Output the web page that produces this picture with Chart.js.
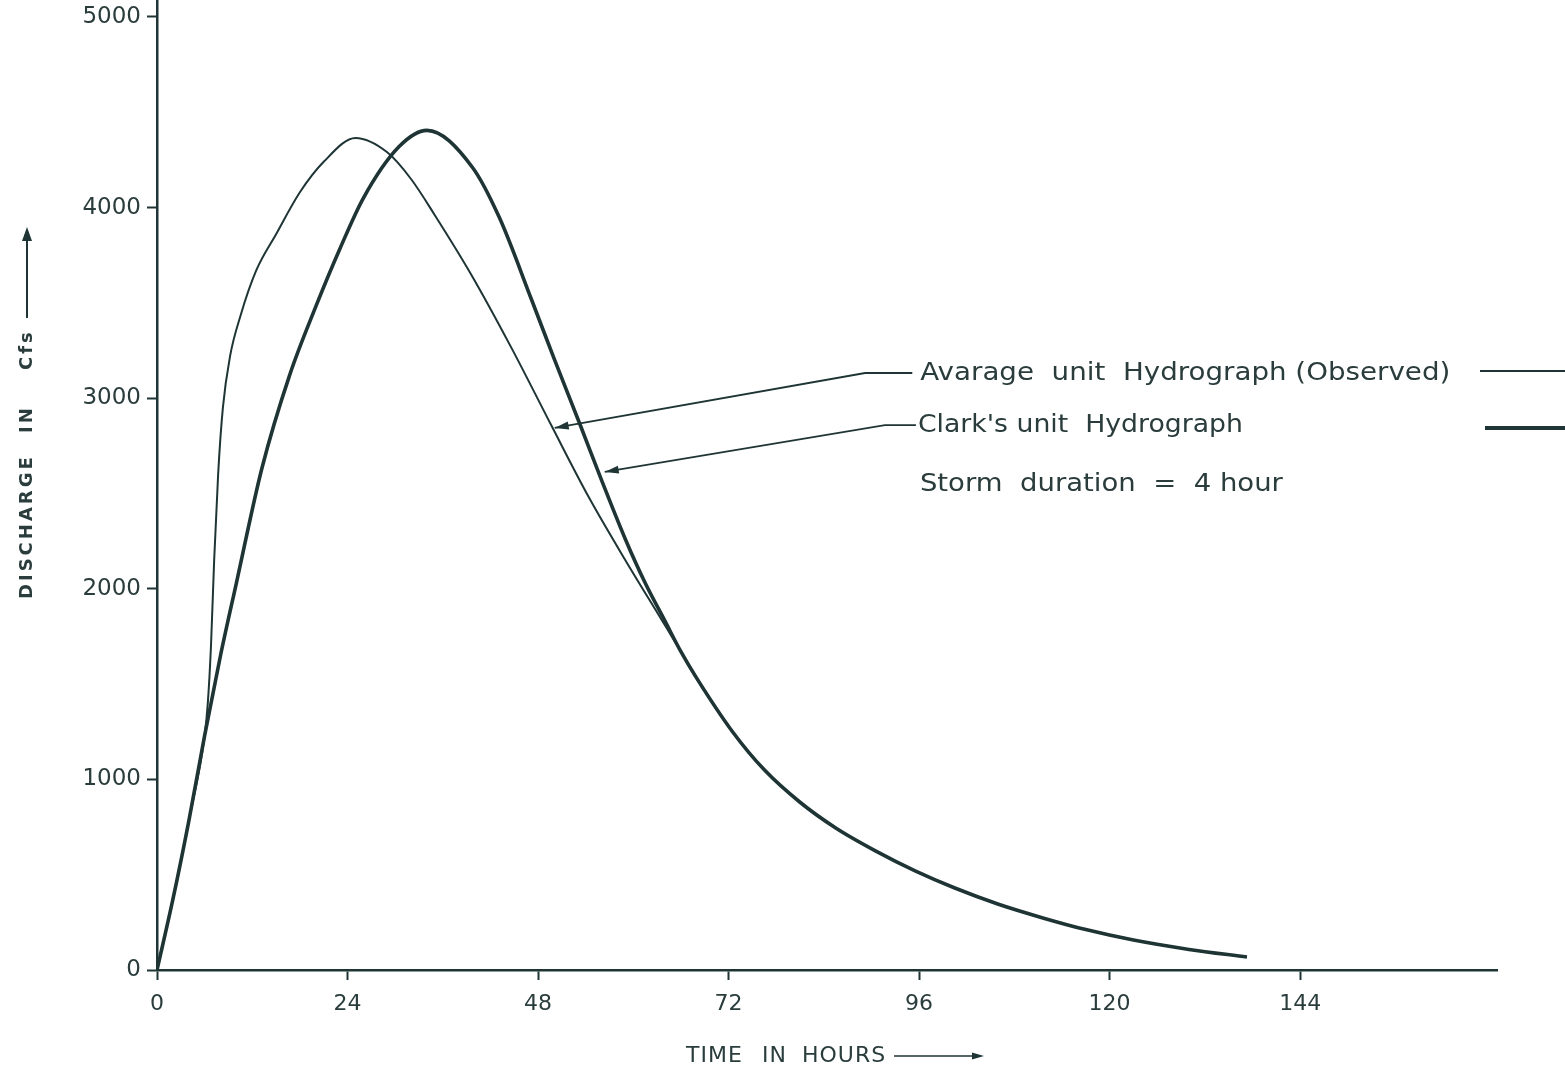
<!DOCTYPE html>
<html><head><meta charset="utf-8">
<script src="https://cdn.jsdelivr.net/npm/chart.js@4"></script>
<style>html,body{margin:0;padding:0;background:#fff}#wrap{width:1565px;height:1069px}</style>
</head><body><div id="wrap"><canvas id="c" width="1565" height="1069"></canvas></div>
<script>
// Time in hours / discharge in cfs
const obsHours  = [0, 2, 4, 6, 6.4, 6.8, 7.2, 7.7, 8.3, 9.2, 10.5, 12.5, 15, 18, 21, 25, 29, 32, 35, 39.7, 44.7, 49.7, 54.4, 59, 63.6, 66, 68, 72.5, 76.5, 81, 85.5, 90.5, 95.5, 100.5, 106, 111.7, 117, 123, 130, 137.3];
const obsFlow   = [0, 370, 780, 1230, 1400, 1700, 2150, 2600, 2950, 3220, 3430, 3670, 3860, 4080, 4240, 4365, 4290, 4150, 3960, 3640, 3260, 2855, 2480, 2150, 1835, 1670, 1530, 1250, 1050, 880, 745, 625, 520, 430, 345, 272, 212, 157, 108, 68];
const clarkHours = [0, 2, 4, 6, 8, 10, 13.2, 16.7, 20, 23, 26, 30.5, 34, 39.7, 43.1, 47.2, 50, 53.4, 56, 59, 61.5, 64, 66, 68, 72.5, 76.5, 81, 85.5, 90.5, 95.5, 100.5, 106, 111.7, 117, 123, 130, 137.3];
const clarkFlow  = [0, 370, 780, 1230, 1650, 2030, 2630, 3120, 3480, 3780, 4050, 4320, 4405, 4213, 3950, 3515, 3210, 2850, 2570, 2260, 2030, 1830, 1670, 1530, 1250, 1050, 880, 745, 625, 520, 430, 345, 272, 212, 157, 108, 68];
const xTickValues = [0, 24, 48, 72, 96, 120, 144];
const yTickValues = [0, 1000, 2000, 3000, 4000, 5000];
const seriesNames = ['Avarage  unit  Hydrograph (Observed)', "Clark's unit  Hydrograph"];
const noteText = 'Storm  duration  =  4 hour';
const xTitleWords = ['TIME', 'IN', 'HOURS'];
const yTitleWords = ['DISCHARGE', 'IN', 'Cfs'];

const INK = '#1f3535';
const TXT = '#2a3c3c';

const toPts = (xs, ys) => xs.map((x, i) => ({x: x, y: ys[i]}));

function arrowHead(ctx, x1, y1, x2, y2, len, wid) {
  const a = Math.atan2(y2 - y1, x2 - x1);
  ctx.beginPath();
  ctx.moveTo(x2, y2);
  ctx.lineTo(x2 - len * Math.cos(a) + wid * Math.sin(a), y2 - len * Math.sin(a) - wid * Math.cos(a));
  ctx.lineTo(x2 - len * Math.cos(a) - wid * Math.sin(a), y2 - len * Math.sin(a) + wid * Math.cos(a));
  ctx.closePath();
  ctx.fill();
}
function fitText(ctx, text, x, y, font, targetW) {
  ctx.font = font;
  const w = ctx.measureText(text).width;
  ctx.save();
  ctx.translate(x, y);
  ctx.scale(targetW / w, 1);
  ctx.fillText(text, 0, 0);
  ctx.restore();
}

const annot = {
  id: 'annot',
  afterDraw(chart) {
    const ctx = chart.ctx, xs = chart.scales.x, ys = chart.scales.y;
    const P = (h, v) => [xs.getPixelForValue(h), ys.getPixelForValue(v)];
    const F = '25px "DejaVu Sans"';
    ctx.save();
    ctx.fillStyle = TXT; ctx.strokeStyle = INK;
    ctx.textBaseline = 'middle'; ctx.textAlign = 'left';
    // observed label + pointer
    const ob = P(89.2, 3132), ot = P(50.1, 2844), otx = P(95.9, 3132);
    ctx.lineWidth = 1.8;
    ctx.beginPath(); ctx.moveTo(otx[0] - 6, ob[1]); ctx.lineTo(ob[0], ob[1]); ctx.lineTo(ot[0], ot[1]); ctx.stroke();
    ctx.fillStyle = INK; arrowHead(ctx, ob[0], ob[1], ot[0], ot[1], 14, 4);
    ctx.fillStyle = TXT; fitText(ctx, seriesNames[0], otx[0] + 2, otx[1], F, 530);
    // clark label + pointer
    const cb = P(91.7, 2859), ct = P(56.4, 2613), ctx2 = P(95.6, 2859);
    ctx.beginPath(); ctx.moveTo(ctx2[0], cb[1]); ctx.lineTo(cb[0], cb[1]); ctx.lineTo(ct[0], ct[1]); ctx.stroke();
    ctx.fillStyle = INK; arrowHead(ctx, cb[0], cb[1], ct[0], ct[1], 14, 4);
    ctx.fillStyle = TXT; fitText(ctx, seriesNames[1], ctx2[0] + 2, ctx2[1], F, 325);
    // storm note
    const sn = P(96.1, 2545);
    fitText(ctx, noteText, sn[0], sn[1], F, 363);
    // legend line samples at right edge
    const r = chart.chartArea.right;
    ctx.lineWidth = 2;
    ctx.beginPath(); ctx.moveTo(r - 17, otx[1] - 2); ctx.lineTo(chart.width, otx[1] - 2); ctx.stroke();
    ctx.lineWidth = 4;
    ctx.beginPath(); ctx.moveTo(r - 12, ctx2[1] + 3); ctx.lineTo(chart.width, ctx2[1] + 3); ctx.stroke();
    // y title (rotated), words placed along the axis
    ctx.save();
    ctx.translate(27, 599);
    ctx.rotate(-Math.PI / 2);
    ctx.fillStyle = TXT;
    ctx.font = 'bold 18px "DejaVu Sans"';
    ctx.letterSpacing = '3px';
    ctx.fillText(yTitleWords[0], 0, 0);
    ctx.fillText(yTitleWords[1], 166, 0);
    ctx.fillText(yTitleWords[2], 229, 0);
    ctx.letterSpacing = '0px';
    ctx.lineWidth = 2;
    ctx.beginPath(); ctx.moveTo(281, 0); ctx.lineTo(362, 0); ctx.stroke();
    ctx.fillStyle = INK; arrowHead(ctx, 281, 0, 372, 0, 14, 5);
    ctx.restore();
    // x title
    ctx.fillStyle = TXT;
    ctx.font = '22px "DejaVu Sans"';
    ctx.letterSpacing = '1px';
    ctx.fillText(xTitleWords[0], 686, 1056);
    ctx.fillText(xTitleWords[1], 762, 1056);
    ctx.fillText(xTitleWords[2], 802, 1056);
    ctx.letterSpacing = '0px';
    ctx.strokeStyle = INK;
    ctx.lineWidth = 1.6;
    ctx.beginPath(); ctx.moveTo(894, 1056); ctx.lineTo(976, 1056); ctx.stroke();
    ctx.fillStyle = INK; arrowHead(ctx, 900, 1056, 984, 1056, 12, 3.5);
    ctx.restore();
  }
};

new Chart(document.getElementById('c'), {
  type: 'scatter',
  data: {
    datasets: [
      { label: seriesNames[0], data: toPts(obsHours, obsFlow), showLine: true, borderColor: INK, borderWidth: 2,
        pointRadius: 0, cubicInterpolationMode: 'monotone', fill: false },
      { label: seriesNames[1], data: toPts(clarkHours, clarkFlow), showLine: true, borderColor: INK, borderWidth: 3.6,
        pointRadius: 0, cubicInterpolationMode: 'monotone', fill: false }
    ]
  },
  options: {
    responsive: false, animation: false, devicePixelRatio: 1,
    layout: { padding: { left: 0, right: 68, top: 0, bottom: 0 } },
    plugins: { legend: { display: false }, tooltip: { enabled: false } },
    scales: {
      x: {
        type: 'linear', min: 0, max: 168.8,
        afterFit: s => { s.height = 99; s.paddingLeft = 0; s.paddingRight = 0; },
        afterBuildTicks: s => { s.ticks = xTickValues.map(v => ({value: v})); },
        grid: { drawOnChartArea: false, tickLength: 10, tickWidth: 2, color: INK },
        border: { color: INK, width: 2.5 },
        ticks: { color: TXT, font: { family: 'DejaVu Sans', size: 22 }, padding: 11, maxRotation: 0, autoSkip: false,
                 callback: v => String(v) }
      },
      y: {
        type: 'linear', min: 0, max: 5089,
        afterFit: s => { s.width = 157; s.paddingTop = 0; s.paddingBottom = 0; },
        afterBuildTicks: s => { s.ticks = yTickValues.map(v => ({value: v})); },
        grid: { drawOnChartArea: false, tickLength: 10, tickWidth: 2, color: INK },
        border: { color: INK, width: 2.5 },
        ticks: { color: TXT, font: { family: 'DejaVu Sans', size: 23 }, padding: 6, autoSkip: false,
                 callback: v => String(v) }
      }
    }
  },
  plugins: [annot]
});
</script></body></html>
